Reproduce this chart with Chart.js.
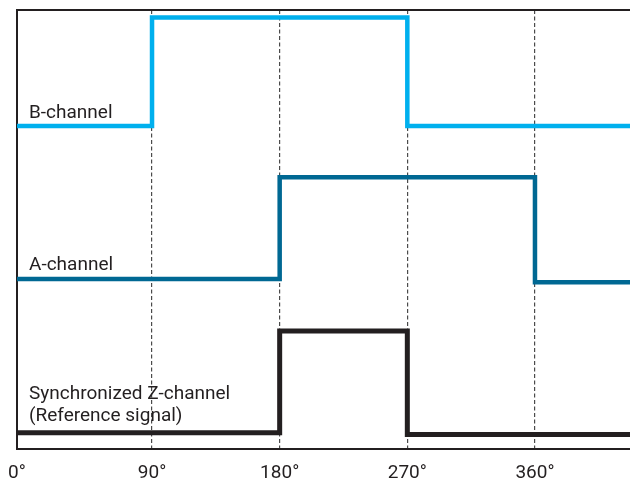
<!DOCTYPE html>
<html>
<head>
<meta charset="utf-8">
<style>
  html, body { margin: 0; padding: 0; background: #ffffff; }
  #wrap { width: 630px; height: 482px; position: relative; }
</style>
<script src="https://cdn.jsdelivr.net/npm/chart.js@4.4.1/dist/chart.umd.min.js"></script>
</head>
<body>
<div id="wrap"><canvas id="c"></canvas></div>
<script>
// ---- data (phase in degrees, signal level in arbitrary units) ----
const bChannelX = [-5.2, 90, 270, 427];
const bChannelY = [73.6, 98.3, 73.6, 73.6];
const aChannelX = [-5.2, 180, 360, 427];
const aChannelY = [38.7, 61.9, 38.0, 38.0];
const zChannelX = [-5.2, 180, 270, 427];
const zChannelY = [3.7, 26.9, 3.3, 3.3];

const tickValues = [-5.2, 90, 180, 270, 360];
const tickLabels = ['0°', '90°', '180°', '270°', '360°'];
const gridValues = [90, 180, 270, 360];

const seriesNames = ['B-channel', 'A-channel', 'Synchronized Z-channel\n(Reference signal)'];

const xMin = -5.2, xMax = 427;
const yMin = 0, yMax = 100;

const toPoints = (xs, ys) => xs.map((x, i) => ({ x: x, y: ys[i] }));

const INK = '#231f20';

const labelPlugin = {
  id: 'labels',
  afterDatasetsDraw(chart) {
    const { ctx, chartArea, scales } = chart;
    ctx.save();
    ctx.fillStyle = INK;
    ctx.font = '19px Roboto';
    ctx.textAlign = 'left';
    ctx.textBaseline = 'alphabetic';
    const lows = [bChannelY[0], aChannelY[0], zChannelY[0]];
    const offsets = [8, 9, 12];
    seriesNames.forEach((name, i) => {
      const lines = name.split('\n');
      const base = scales.y.getPixelForValue(lows[i]) - offsets[i];
      lines.forEach((ln, j) => {
        const y = base - (lines.length - 1 - j) * 22;
        ctx.fillText(ln, chartArea.left + 12, y);
      });
    });
    ctx.restore();
  },
  beforeDatasetsDraw(chart) {
    const { ctx, chartArea } = chart;
    ctx.save();
    ctx.strokeStyle = INK;
    ctx.lineWidth = 2;
    ctx.beginPath();
    ctx.moveTo(chartArea.left, chartArea.bottom);
    ctx.lineTo(chartArea.left, chartArea.top);
    ctx.lineTo(chartArea.right, chartArea.top);
    ctx.stroke();
    ctx.restore();
  }
};

new Chart(document.getElementById('c'), {
  type: 'line',
  data: {
    datasets: [
      { label: 'B-channel', data: toPoints(bChannelX, bChannelY), borderColor: '#00b0ee', borderWidth: 4.5, stepped: 'before' },
      { label: 'A-channel', data: toPoints(aChannelX, aChannelY), borderColor: '#006893', borderWidth: 4.5, stepped: 'before' },
      { label: 'Z-channel', data: toPoints(zChannelX, zChannelY), borderColor: INK, borderWidth: 5, stepped: 'before' }
    ]
  },
  options: {
    responsive: true,
    maintainAspectRatio: false,
    animation: false,
    layout: { padding: { left: 17, right: 0, top: 10, bottom: 0 } },
    elements: {
      point: { radius: 0, hoverRadius: 0 },
      line: { borderJoinStyle: 'miter', borderCapStyle: 'butt', fill: false }
    },
    plugins: { legend: { display: false }, tooltip: { enabled: false } },
    scales: {
      x: {
        type: 'linear',
        min: xMin, max: xMax,
        afterBuildTicks(axis) { axis.ticks = tickValues.map(v => ({ value: v })); },
        afterFit(axis) { axis.height = 33; axis.paddingLeft = 0; axis.paddingRight = 0; },
        ticks: {
          autoSkip: false, maxRotation: 0, padding: 13,
          color: INK,
          font: { family: 'Roboto', size: 19 },
          callback: (v) => { const i = tickValues.indexOf(v); return i >= 0 ? tickLabels[i] : ''; }
        },
        grid: {
          drawTicks: false,
          color: (c) => (c.tick && gridValues.includes(c.tick.value)) ? '#4a4a4a' : 'rgba(0,0,0,0)',
          lineWidth: 1.2
        },
        border: { display: true, color: INK, width: 2, dash: [4, 2.5] }
      },
      y: {
        display: false,
        min: yMin, max: yMax
      }
    }
  },
  plugins: [labelPlugin]
});
</script>
</body>
</html>
